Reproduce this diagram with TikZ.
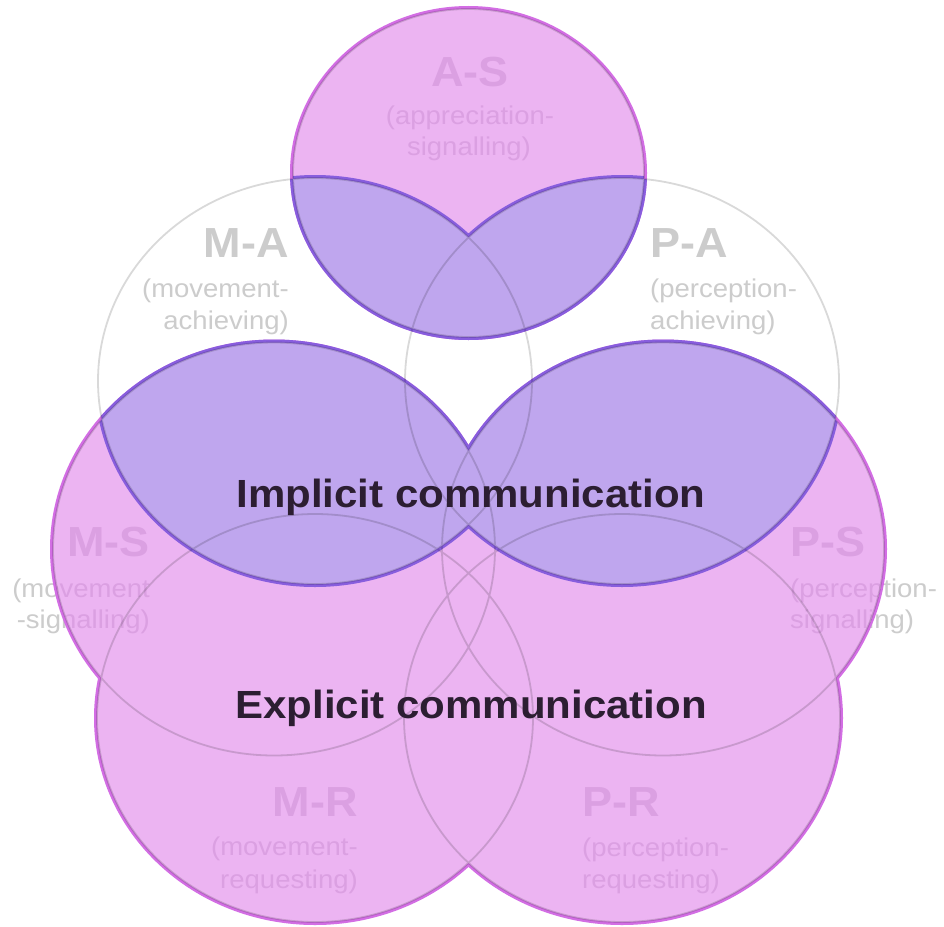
\documentclass[tikz,border=0pt]{standalone}
\usepackage{fontspec}
\setmainfont{Liberation Sans}
\usepackage{graphicx}
\definecolor{pinkfill}{RGB}{236,180,242}
\definecolor{purplefill}{RGB}{191,166,238}
\definecolor{magborder}{RGB}{211,110,228}
\definecolor{purpborder}{RGB}{136,94,222}
\definecolor{labgray}{RGB}{204,204,204}
\definecolor{labpink}{RGB}{219,160,226}
\definecolor{darktext}{RGB}{44,30,50}
\newcommand{\vsq}[1]{\scalebox{1}[0.935]{#1}}
\def\pAS{(AS) ellipse [x radius=175.5pt,y radius=164pt]}
\def\pMA{(MA) ellipse [x radius=217pt,y radius=203pt]}
\def\pPA{(PA) ellipse [x radius=217pt,y radius=203pt]}
\def\pMS{(MS) ellipse [x radius=221pt,y radius=206.5pt]}
\def\pPS{(PS) ellipse [x radius=221pt,y radius=206.5pt]}
\def\pMR{(MR) ellipse [x radius=218pt,y radius=204pt]}
\def\pPR{(PR) ellipse [x radius=218pt,y radius=204pt]}
\newcommand{\labelset}[2]{%
  \node[lab,text=#1,anchor=base] (#2AS) at (470,86) {\vsq{A-S}};
  \node[sub,text=#1,anchor=base] (#2ASa) at (470,124) {\vsq{(appreciation-}};
  \node[sub,text=#1,anchor=base] (#2ASb) at (469,155) {\vsq{signalling)}};
  \node[lab,text=#1,anchor=base east] (#2MA) at (289,257) {\vsq{M-A}};
  \node[sub,text=#1,anchor=base east] (#2MAa) at (289,297) {\vsq{(movement-}};
  \node[sub,text=#1,anchor=base east] (#2MAb) at (289,329) {\vsq{achieving)}};
  \node[lab,text=#1,anchor=base west] (#2PA) at (650,257) {\vsq{P-A}};
  \node[sub,text=#1,anchor=base west] (#2PAa) at (650,297) {\vsq{(perception-}};
  \node[sub,text=#1,anchor=base west] (#2PAb) at (650,329) {\vsq{achieving)}};
  \node[lab,text=#1,anchor=base east] (#2MS) at (150,556) {\vsq{M-S}};
  \node[sub,text=#1,anchor=base east] (#2MSa) at (150,597) {\vsq{(movement}};
  \node[sub,text=#1,anchor=base east] (#2MSb) at (150,628) {\vsq{-signalling)}};
  \node[lab,text=#1,anchor=base west] (#2PS) at (790,556) {\vsq{P-S}};
  \node[sub,text=#1,anchor=base west] (#2PSa) at (790,597) {\vsq{(perception-}};
  \node[sub,text=#1,anchor=base west] (#2PSb) at (790,628) {\vsq{signalling)}};
  \node[lab,text=#1,anchor=base east] (#2MR) at (358,816) {\vsq{M-R}};
  \node[sub,text=#1,anchor=base east] (#2MRa) at (358,855) {\vsq{(movement-}};
  \node[sub,text=#1,anchor=base east] (#2MRb) at (358,888) {\vsq{requesting)}};
  \node[lab,text=#1,anchor=base west] (#2PR) at (582,816) {\vsq{P-R}};
  \node[sub,text=#1,anchor=base west] (#2PRa) at (582,856) {\vsq{(perception-}};
  \node[sub,text=#1,anchor=base west] (#2PRb) at (582,888) {\vsq{requesting)}};
}
\begin{document}
\begin{tikzpicture}[x=1pt,y=-1pt,
  lab/.style={font=\fontsize{45}{50}\selectfont\bfseries,inner sep=0pt},
  sub/.style={font=\fontsize{27.5}{30}\selectfont,inner sep=0pt},
  big/.style={font=\fontsize{42}{46}\selectfont\bfseries,inner sep=0pt,text=darktext},
  bord/.style={line width=6pt},
  thin/.style={draw=black,draw opacity=0.15,line width=1.8pt}]
\useasboundingbox (0,0) rectangle (944,926);
\fill[white] (0,0) rectangle (944,926);
\coordinate (AS) at (468.5,173);
\coordinate (MA) at (315,381);
\coordinate (PA) at (622,381);
\coordinate (MS) at (274,549);
\coordinate (PS) at (663,549);
\coordinate (MR) at (315,718);
\coordinate (PR) at (622,718);
% labels under the pink fill
\labelset{labgray}{g}
% pink circles with outer border
\draw[magborder,bord] \pAS \pMS \pPS \pMR \pPR;
\fill[pinkfill] \pAS \pMS \pPS \pMR \pPR;
\begin{scope}
  \clip \pAS \pMS \pPS \pMR \pPR;
  \labelset{labpink}{q}
\end{scope}
% purple borders
\begin{scope}\clip \pMS; \draw[purpborder,bord] \pMA; \end{scope}
\begin{scope}\clip \pMA; \draw[purpborder,bord] \pMS; \end{scope}
\begin{scope}\clip \pPS; \draw[purpborder,bord] \pPA; \end{scope}
\begin{scope}\clip \pPA; \draw[purpborder,bord] \pPS; \end{scope}
\begin{scope}\clip \pAS; \draw[purpborder,bord] \pMA \pPA; \end{scope}
\begin{scope}\clip \pMA \pPA; \draw[purpborder,bord] \pAS; \end{scope}
% purple fills
\begin{scope}\clip \pMS; \fill[purplefill] \pMA; \end{scope}
\begin{scope}\clip \pPS; \fill[purplefill] \pPA; \end{scope}
\begin{scope}\clip \pAS; \fill[purplefill] \pMA \pPA; \end{scope}
% thin outlines of every circle
\draw[thin] \pAS \pMA \pPA \pMS \pPS \pMR \pPR;
% main texts
\node[big,anchor=base] (impl) at (471,507) {\vsq{Implicit communication}};
\node[big,anchor=base] (expl) at (471,718) {\vsq{Explicit communication}};
\end{tikzpicture}
\end{document}
